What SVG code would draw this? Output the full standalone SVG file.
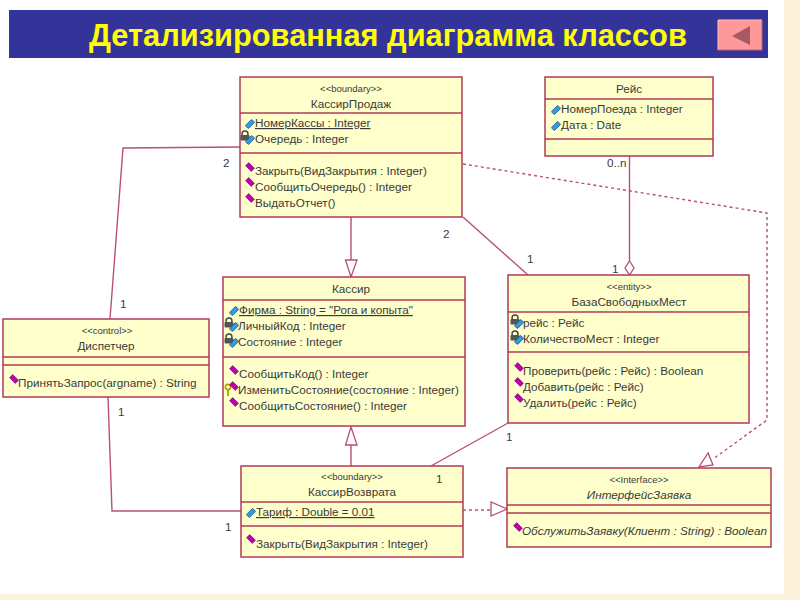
<svg xmlns="http://www.w3.org/2000/svg" width="800" height="600" viewBox="0 0 800 600">
<style>
text{font-family:"Liberation Sans",Arial,sans-serif;font-size:11.7px;fill:#3a3a3a}
.c{text-anchor:middle}
.s{font-size:9.5px}
.i{font-style:italic}
.u{text-decoration:underline}
.box{fill:#ffffcc;stroke:#b03a5a;stroke-width:1.5}
.div{stroke:#b03a5a;stroke-width:1.5;fill:none}
.ln{stroke:#b8506e;stroke-width:1.4;fill:none}
.dash{stroke:#b8506e;stroke-width:1.4;fill:none;stroke-dasharray:3 3}
.tri{fill:#fff;stroke:#b8506e;stroke-width:1.3}
</style>
<defs>
<g id="attr"><rect x="-4.500" y="-2.200" width="9" height="4.400" rx="1" transform="rotate(-45)" fill="#2f9be0" stroke="#1a4a80" stroke-width=".7"/></g>
<g id="op"><rect x="-4" y="-2.200" width="8" height="4.400" transform="rotate(45)" fill="#c000b0" stroke="#600060" stroke-width=".6"/></g>
<g id="lock"><circle cx="0" cy="-2" r="3" fill="none" stroke="#444" stroke-width="1.400"/><rect x="-4.500" y="-1" width="9" height="5.500" rx="1" fill="#555"/></g>
<g id="key"><circle cx="0" cy="-3" r="2.600" fill="none" stroke="#b0a000" stroke-width="1.600"/><rect x="-.9" y="-1" width="1.800" height="7" fill="#b0a000"/></g>
</defs>
<rect width="800" height="600" fill="#fdf3dd"/>
<rect x="0" y="0" width="784" height="594" fill="#fff"/>
<g id="banner">
<rect x="9" y="10" width="759" height="48" fill="#333399"/>
<text x="89" y="46" style="font-size:30.800px;font-weight:bold;fill:#ffff00">Детализированная диаграмма классов</text>
<rect x="718" y="20" width="44" height="30" fill="#ff9999"/>
<path d="M718 50V20H762" fill="none" stroke="#ffc0c0"/><path d="M718 50H762V20" fill="none" stroke="#b06a70"/>
<polygon points="732,36 750,26 750,45" fill="#a85a64"/>
</g>
<g id="connectors">
<polyline class="ln" points="110,319 123,148 240,147"/>
<polyline class="ln" points="108,397 112,511 241,511"/>
<line class="ln" x1="351" y1="217" x2="351" y2="260"/>
<polygon class="tri" points="351,277 345.500,260 357,260"/>
<line class="ln" x1="351" y1="466" x2="351" y2="445"/>
<polygon class="tri" points="351,427 345.500,445 357,445"/>
<line class="ln" x1="463" y1="217" x2="528" y2="275"/>
<line class="ln" x1="431" y1="466" x2="508" y2="423"/>
<line class="ln" x1="629.500" y1="156" x2="629.500" y2="261"/>
<polygon class="tri" points="629.500,261 634,268 629.500,275 625,268"/>
<polyline class="dash" points="463,164 767,213 767,420 713,459"/>
<polygon class="tri" points="708,453 699,467 713,465"/>
<line class="dash" x1="463" y1="510" x2="491" y2="510"/>
<polygon class="tri" points="491,502 491,516 507,509"/>
</g>
<g id="kassirProdazh">
<rect class="box" x="240" y="77" width="222" height="140"/>
<line class="div" x1="240" y1="113" x2="462" y2="113"/><line class="div" x1="240" y1="153" x2="462" y2="153"/>
<text class="c s" x="351" y="92">&lt;&lt;boundary&gt;&gt;</text>
<text class="c" x="351" y="108">КассирПродаж</text>
<use href="#attr" x="250" y="124"/><text class="u" x="255" y="127">НомерКассы : Integer</text>
<use href="#lock" x="245" y="136"/><use href="#attr" x="250" y="140"/><text x="255" y="143">Очередь : Integer</text>
<use href="#op" x="250" y="167"/><text x="255" y="175">Закрыть(ВидЗакрытия : Integer)</text>
<use href="#op" x="250" y="182"/><text x="255" y="191">СообщитьОчередь() : Integer</text>
<use href="#op" x="250" y="198"/><text x="255" y="207">ВыдатьОтчет()</text>
</g>
<g id="reys">
<rect class="box" x="545" y="77" width="168" height="79"/>
<line class="div" x1="545" y1="99" x2="713" y2="99"/><line class="div" x1="545" y1="139" x2="713" y2="139"/>
<text class="c" x="629" y="93">Рейс</text>
<use href="#attr" x="556" y="110"/><text x="561" y="113">НомерПоезда : Integer</text>
<use href="#attr" x="556" y="126"/><text x="561" y="129">Дата : Date</text>
</g>
<g id="kassir">
<rect class="box" x="223" y="277" width="242" height="149"/>
<line class="div" x1="223" y1="300" x2="465" y2="300"/><line class="div" x1="223" y1="357" x2="465" y2="357"/>
<text class="c" x="351" y="293">Кассир</text>
<use href="#attr" x="234" y="311"/><text class="u" x="239" y="314">Фирма : String = "Рога и копыта"</text>
<use href="#lock" x="229" y="323"/><use href="#attr" x="234" y="327"/><text x="238" y="330">ЛичныйКод : Integer</text>
<use href="#lock" x="229" y="339"/><use href="#attr" x="234" y="343"/><text x="238" y="346">Состояние : Integer</text>
<use href="#op" x="234" y="370"/><text x="239" y="378">СообщитьКод() : Integer</text>
<use href="#key" x="228" y="390"/><use href="#op" x="234" y="386"/><text x="238" y="394">ИзменитьСостояние(состояние : Integer)</text>
<use href="#op" x="234" y="402"/><text x="239" y="410">СообщитьСостояние() : Integer</text>
</g>
<g id="baza">
<rect class="box" x="508" y="275" width="241" height="148"/>
<line class="div" x1="508" y1="312" x2="749" y2="312"/><line class="div" x1="508" y1="352" x2="749" y2="352"/>
<text class="c s" x="629" y="290">&lt;&lt;entity&gt;&gt;</text>
<text class="c" x="629" y="306">БазаСвободныхМест</text>
<use href="#lock" x="515" y="320"/><use href="#attr" x="519" y="324"/><text x="523" y="327">рейс : Рейс</text>
<use href="#lock" x="515" y="336"/><use href="#attr" x="519" y="340"/><text x="523" y="343">КоличествоМест : Integer</text>
<use href="#op" x="519" y="367"/><text x="523" y="375">Проверить(рейс : Рейс) : Boolean</text>
<use href="#op" x="519" y="382"/><text x="523" y="391">Добавить(рейс : Рейс)</text>
<use href="#op" x="519" y="398"/><text x="523" y="407">Удалить(рейс : Рейс)</text>
</g>
<g id="dispetcher">
<rect class="box" x="3" y="319" width="206" height="78"/>
<line class="div" x1="3" y1="357" x2="209" y2="357"/><line class="div" x1="3" y1="365" x2="209" y2="365"/>
<text class="c s" x="107" y="334">&lt;&lt;control&gt;&gt;</text>
<text class="c" x="106" y="350">Диспетчер</text>
<use href="#op" x="14" y="379"/><text x="18" y="387">ПринятьЗапрос(argname) : String</text>
</g>
<g id="kassirVozvrata">
<rect class="box" x="241" y="466" width="222" height="91"/>
<line class="div" x1="241" y1="502" x2="463" y2="502"/><line class="div" x1="241" y1="526" x2="463" y2="526"/>
<text class="c s" x="352" y="480">&lt;&lt;boundary&gt;&gt;</text>
<text class="c" x="352" y="496">КассирВозврата</text>
<use href="#attr" x="251" y="513"/><text class="u" x="256" y="516">Тариф : Double = 0.01</text>
<use href="#op" x="251" y="539"/><text x="256" y="548">Закрыть(ВидЗакрытия : Integer)</text>
</g>
<g id="interfaceZayavka">
<rect class="box" x="507" y="468" width="264" height="79"/>
<line class="div" x1="507" y1="505" x2="771" y2="505"/><line class="div" x1="507" y1="513" x2="771" y2="513"/>
<text class="c s" x="639" y="483">&lt;&lt;Interface&gt;&gt;</text>
<text class="c i" x="639" y="499">ИнтерфейсЗаявка</text>
<use href="#op" x="518" y="527"/><text class="i" x="522" y="535">ОбслужитьЗаявку(Клиент : String) : Boolean</text>
</g>
<g id="multiplicities">
<text x="223" y="167">2</text>
<text x="120" y="308">1</text>
<text x="118" y="416">1</text>
<text x="225" y="531">1</text>
<text x="443" y="238">2</text>
<text x="527" y="263">1</text>
<text x="607" y="167">0..n</text>
<text x="612" y="273">1</text>
<text x="506" y="441">1</text>
<text x="436" y="483">1</text>
</g>
</svg>
